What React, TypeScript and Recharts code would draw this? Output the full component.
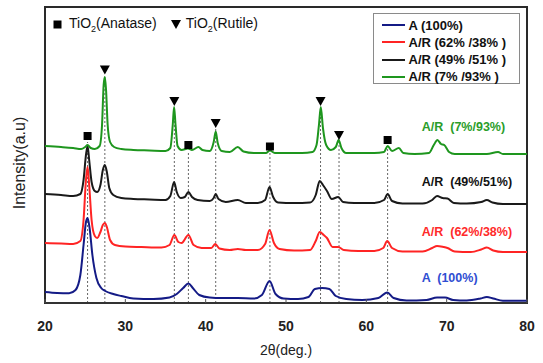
import React from 'react';
import {
  ComposedChart, Line, XAxis, YAxis, ReferenceArea, ReferenceLine, ReferenceDot, Legend, Label,
} from 'recharts';

// ---- data: [2θ (deg), intensity (a.u., stacked offset included)] ----
const seriesA100: [number, number][] = [
  [20, 11], [21.5, 10], [23, 9.7], [23.8, 13], [24.4, 28], [24.8, 58], [25.1, 81], [25.3, 85],
  [25.55, 75], [25.9, 48], [26.4, 25], [27.0, 15], [27.5, 12], [28.5, 9], [29.5, 7], [31, 4.5],
  [33.5, 4], [35.5, 5.5], [36.4, 9], [37.2, 15], [37.85, 19.5], [38.4, 15], [39.2, 8], [40.5, 5.5],
  [42, 5], [44, 5], [46, 4.5], [47.0, 8], [47.95, 22], [48.7, 9], [49.7, 4.5], [51.5, 4], [52.8, 6],
  [53.6, 14], [54.5, 15], [55.4, 14], [56.2, 7], [57.5, 4], [59.5, 3], [61.5, 5], [62.6, 10.5],
  [63.4, 5], [65, 2.5], [67.5, 3], [68.8, 5.5], [69.8, 5.5], [70.8, 3], [72.5, 2.5], [74.2, 4.5],
  [75.0, 6], [75.8, 4.5], [77, 2.3], [80, 2.3],
];

const seriesAR62: [number, number][] = [
  [20, 60], [22, 59.5], [23.5, 59], [24.4, 62], [24.8, 83], [25.1, 123], [25.3, 136], [25.5, 118],
  [25.8, 83], [26.2, 67], [26.5, 65], [26.9, 71], [27.2, 78], [27.45, 80], [27.7, 76], [28.1, 63],
  [28.7, 58], [30, 56.5], [32, 56], [34.5, 55.5], [35.5, 58], [36.1, 68], [36.6, 61], [37.0, 60],
  [37.85, 68], [38.5, 58], [39.5, 55], [40.7, 55], [41.2, 59], [41.7, 54.5], [43, 53], [44.0, 54],
  [45, 53], [46.5, 53], [47.4, 59], [47.95, 73], [48.5, 60], [49.2, 54], [51, 52.5], [53, 53],
  [53.7, 62], [54.2, 71], [54.7, 68], [55.1, 65], [55.8, 56], [56.5, 56], [57.2, 53], [59, 52],
  [61, 52], [62.1, 55], [62.6, 62], [63.2, 55], [64.5, 51.5], [67, 51.5], [68.2, 55], [68.8, 57],
  [69.6, 56], [70.1, 55], [71, 51.5], [73, 51], [74.3, 53.5], [75.0, 55.5], [75.8, 52.5], [77, 51],
  [80, 51],
];

const seriesAR49: [number, number][] = [
  [20, 109], [22, 108], [23.5, 107], [24.4, 109], [24.8, 123], [25.1, 148], [25.3, 157], [25.5, 143],
  [25.8, 121], [26.2, 112], [26.5, 111], [26.9, 118], [27.2, 133], [27.45, 138], [27.7, 131],
  [28.0, 115], [28.5, 108], [29.5, 105], [31, 104], [33, 103.5], [35, 103], [35.6, 107], [36.07, 121],
  [36.4, 111], [36.9, 105], [37.4, 106], [37.85, 111], [38.3, 106], [39, 103], [40.5, 102], [41.0, 105],
  [41.25, 109], [41.6, 104], [42.5, 101], [44.0, 103], [45, 100], [46.5, 100], [47.4, 103],
  [47.95, 116], [48.4, 106], [49, 100.5], [51, 100], [53, 100.5], [53.7, 108], [54.2, 122],
  [54.6, 118], [55.1, 112], [55.7, 104], [56.5, 106], [57.1, 101], [58.5, 100], [61, 100], [62.2, 103],
  [62.65, 109], [63.2, 102], [64.5, 99.5], [67, 99.5], [68.2, 103], [68.8, 107], [69.5, 105],
  [70.1, 104.5], [70.9, 100], [72.5, 99.5], [74.3, 101], [75.0, 103], [75.7, 100.5], [77, 99], [80, 99],
];

const seriesAR7: [number, number][] = [
  [20, 157], [22, 156], [23.5, 155], [24.5, 154], [25.0, 156], [25.3, 158], [25.7, 155], [26.2, 154],
  [26.8, 157], [27.1, 178], [27.3, 218], [27.45, 226], [27.6, 213], [27.8, 178], [28.1, 161],
  [28.6, 156], [29.5, 154], [31, 153], [33, 152.5], [35, 152], [35.6, 155], [35.9, 178], [36.07, 196],
  [36.25, 178], [36.5, 157], [37.0, 153], [37.8, 154.5], [38.3, 153], [39.1, 156], [39.6, 153],
  [40.5, 152], [41.0, 161], [41.25, 171.5], [41.5, 160], [42.0, 152], [43.0, 151], [44.0, 156],
  [44.7, 151.5], [46, 150], [47.5, 150], [48.0, 152.5], [48.6, 150], [50, 150], [52, 150], [53.3, 151],
  [53.8, 158], [54.1, 178], [54.33, 196], [54.6, 175], [55.0, 158], [55.6, 153], [56.2, 156],
  [56.55, 163], [56.9, 155], [57.5, 150], [59, 150], [61, 150], [62.2, 151], [62.65, 157], [63.2, 152],
  [64.05, 155], [64.6, 150], [66, 149], [67.8, 150], [68.4, 158], [68.85, 163], [69.3, 159], [69.7, 158],
  [70.3, 151], [71, 149], [73, 149], [75, 149], [76.4, 151], [77, 149], [80, 149],
];

const seriesNames = ['A (100%)', 'A/R (62% /38% )', 'A/R (49% /51% )', 'A/R (7% /93% )'];
const seriesColors = ['#141b86', '#ff2424', '#1a1a1a', '#1e961e'];
const seriesData = [seriesA100, seriesAR62, seriesAR49, seriesAR7];

// curve labels on the right: [text, 2θ, intensity, colour]
const curveLabels: [string, number, number, string][] = [
  ['A  (100%)', 66.9, 25, '#2f4ed2'],
  ['A/R  (62%/38%)', 66.9, 71, '#ff2a2a'],
  ['A/R  (49%/51%)', 66.9, 121, '#111111'],
  ['A/R  (7%/93%)', 66.9, 176, '#2a9d2a'],
];

// phase markers: [2θ, intensity, 'A' anatase square | 'R' rutile triangle]
const phaseMarkers: [number, number, 'A' | 'R'][] = [
  [25.3, 167, 'A'], [27.45, 233.5, 'R'], [36.1, 202, 'R'], [37.85, 158, 'A'], [41.25, 180, 'R'],
  [48.0, 156.5, 'A'], [54.3, 202, 'R'], [56.6, 168, 'R'], [62.65, 163, 'A'],
];

const xTicks = [20, 30, 40, 50, 60, 70, 80];

const toPts = (arr: [number, number][]) => arr.map(([x, y]) => ({ x, y }));

const FONT = '"Liberation Sans", Arial, sans-serif';

const MarkerShape = (kind: 'A' | 'R') => (p: any) => {
  const { cx, cy } = p;
  if (kind === 'A') {
    return <rect x={cx - 4} y={cy - 4} width={8} height={8} fill="#000" />;
  }
  return <polygon points={`${cx - 5},${cy - 4} ${cx + 5},${cy - 4} ${cx},${cy + 5}`} fill="#000" />;
};

const LegendContent = () => (
  <div style={{ position: 'relative', width: 543, height: 100, fontFamily: FONT }}>
    {/* phase key, top-left */}
    <div style={{ position: 'absolute', left: 53, top: 15, fontSize: 14, color: '#111', display: 'flex', alignItems: 'center', whiteSpace: 'nowrap' }}>
      <svg width={9} height={9} style={{ marginRight: 7 }}><rect x={0.5} y={0.5} width={8} height={8} fill="#000" /></svg>
      <span>TiO<sub style={{ fontSize: 9 }}>2</sub>(Anatase)</span>
      <svg width={10} height={10} style={{ marginLeft: 14, marginRight: 5 }}><polygon points="0,1 10,1 5,10" fill="#000" /></svg>
      <span>TiO<sub style={{ fontSize: 9 }}>2</sub>(Rutile)</span>
    </div>
    {/* series key, top-right */}
    <div style={{ position: 'absolute', left: 373, top: 13, width: 145, height: 69, border: '1px solid #8a8a8a', background: '#fff' }}>
      {seriesNames.map((n, i) => (
        <div key={n} style={{ position: 'absolute', left: 0, top: 2.5 + i * 17.3, height: 17, display: 'flex', alignItems: 'center', whiteSpace: 'pre' }}>
          <div style={{ marginLeft: 7.5, width: 23, height: 2, background: seriesColors[i] }} />
          <span style={{ marginLeft: 4, fontSize: 13, fontWeight: 'bold', color: '#111' }}>{n}</span>
        </div>
      ))}
    </div>
  </div>
);

const YTitle = (p: any) => {
  const vb = p.viewBox || { x: 0, y: 7, width: 45, height: 296 };
  const cx = vb.x + 19;
  const cy = vb.y + vb.height / 2 + 8;
  return (
    <text x={cx} y={cy} transform={`rotate(-90 ${cx} ${cy})`} textAnchor="middle" dominantBaseline="central"
      fontSize={16} fill="#222" fontFamily={FONT}>Intensity(a.u)</text>
  );
};

const XTitle = (p: any) => {
  const vb = p.viewBox || { x: 45, y: 303, width: 482, height: 60 };
  return (
    <text x={vb.x + vb.width / 2} y={vb.y + 47} textAnchor="middle" dominantBaseline="central"
      fontSize={14} fill="#222" fontFamily={FONT}>2θ(deg.)</text>
  );
};

export default function App() {
  return (
    <div style={{ position: 'absolute', left: 0, top: 0, width: 543, height: 363, background: '#fff' }}>
      <ComposedChart width={543} height={363} margin={{ top: 7, right: 16, bottom: 0, left: 0 }} style={{ fontFamily: FONT }}>
        <XAxis
          type="number" dataKey="x" domain={[20, 80]} ticks={xTicks} allowDataOverflow
          height={60} tickSize={-4} tickMargin={22}
          axisLine={{ stroke: '#333', strokeWidth: 2 }} tickLine={{ stroke: '#555' }}
          tick={{ fontSize: 14, fontWeight: 'bold', fill: '#222', fontFamily: FONT }}
        >
          <Label content={XTitle} />
        </XAxis>
        <YAxis type="number" dataKey="y" domain={[0, 296]} allowDataOverflow width={45} tick={false} tickLine={false} axisLine={false}>
          <Label content={YTitle} />
        </YAxis>
        <Legend layout="horizontal" verticalAlign="middle" align="center" content={LegendContent}
          wrapperStyle={{ position: 'absolute', left: 0, top: 0, width: 543, height: 100 }} />
        {phaseMarkers.map(([a, v]) => (
          <ReferenceLine key={`d${a}`} segment={[{ x: a, y: 0 }, { x: a, y: v - 6 }]}
            stroke="#666" strokeWidth={1} strokeDasharray="2 2" ifOverflow="hidden" />
        ))}
        {seriesData.map((d, i) => (
          <Line key={seriesNames[i]} name={seriesNames[i]} data={toPts(d)} dataKey="y" type="monotone"
            stroke={seriesColors[i]} strokeWidth={2} dot={false} activeDot={false} isAnimationActive={false} />
        ))}
        {phaseMarkers.map(([a, v, k]) => (
          <ReferenceDot key={`m${a}`} x={a} y={v} r={5} shape={MarkerShape(k)} />
        ))}
        {curveLabels.map(([t, a, v, c]) => (
          <ReferenceDot key={t} x={a} y={v} r={1}
            shape={(p: any) => (
              <text x={p.cx} y={p.cy} dominantBaseline="central" fontSize={12.5} fontWeight="bold" fill={c}
                fontFamily={FONT} style={{ whiteSpace: 'pre' }}>{t}</text>
            )} />
        ))}
        <ReferenceArea x1={20} x2={80} y1={0} y2={296} fill="none" stroke="#2a2a2a" strokeWidth={2} ifOverflow="visible" />
      </ComposedChart>
    </div>
  );
}
